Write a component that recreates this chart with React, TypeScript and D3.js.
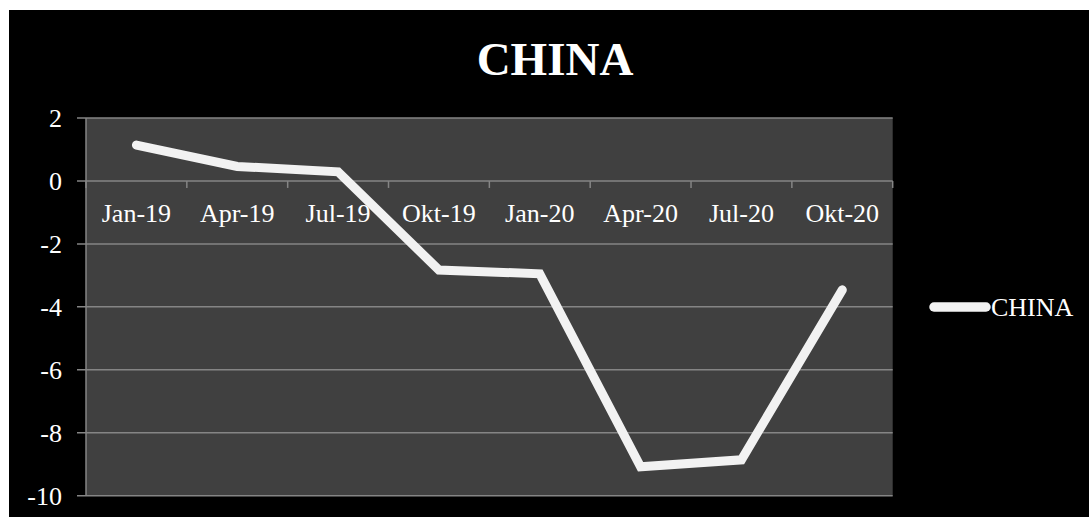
import React from "react";
import * as d3 from "d3";

const categories = ["Jan-19", "Apr-19", "Jul-19", "Okt-19", "Jan-20", "Apr-20", "Jul-20", "Okt-20"];
const chinaValues = [1.14, 0.46, 0.29, -2.83, -2.95, -9.08, -8.86, -3.46];
const yTicks = [2, 0, -2, -4, -6, -8, -10];
const seriesName = "CHINA";
const title = "CHINA";

const W = 1089;
const H = 517;
const plot = { left: 86, right: 892.7, top: 118, bottom: 495.7 };

export default function App() {
  const x = d3.scaleBand<string>().domain(categories).range([plot.left, plot.right]).padding(0);
  const y = d3.scaleLinear().domain([-10, 2]).range([plot.bottom, plot.top]);
  const line = d3
    .line<number>()
    .x((_, i) => (x(categories[i]) as number) + x.bandwidth() / 2)
    .y((d) => y(d));
  const font = "'Liberation Serif', 'Times New Roman', serif";
  const grid = "#858585";
  const boundaries = d3.range(categories.length + 1).map((i) => plot.left + i * x.bandwidth());
  return (
    <svg
      width={W}
      height={H}
      style={{ position: "absolute", left: 0, top: 0 }}
      fontFamily={font}
    >
      <rect x={0} y={0} width={W} height={H} fill="#ffffff" />
      <rect x={9} y={10} width={W - 9} height={H - 10} fill="#000000" />
      <rect
        x={plot.left}
        y={plot.top}
        width={plot.right - plot.left}
        height={plot.bottom - plot.top}
        fill="#404040"
      />
      {yTicks.map((t) => (
        <g key={t}>
          <line x1={77} x2={plot.right} y1={y(t)} y2={y(t)} stroke={grid} strokeWidth={1.5} />
          <text x={62} y={y(t)} dy="0.34em" textAnchor="end" fontSize={26} fill="#ffffff">
            {t}
          </text>
        </g>
      ))}
      <line x1={plot.left} x2={plot.left} y1={plot.top} y2={plot.bottom} stroke={grid} strokeWidth={1.5} />
      {boundaries.map((b, i) => (
        <line key={i} x1={b} x2={b} y1={y(0)} y2={y(0) + 7} stroke={grid} strokeWidth={1.5} />
      ))}
      {categories.map((c) => (
        <text
          key={c}
          x={(x(c) as number) + x.bandwidth() / 2}
          y={222}
          textAnchor="middle"
          fontSize={26}
          fill="#ffffff"
        >
          {c}
        </text>
      ))}
      <path
        d={line(chinaValues) || ""}
        fill="none"
        stroke="#f2f2f2"
        strokeWidth={9}
        strokeLinecap="round"
        strokeLinejoin="miter"
      />
      <text x={555} y={75} textAnchor="middle" fontSize={47} fontWeight="bold" fill="#ffffff">
        {title}
      </text>
      <line x1={934} x2={986} y1={307} y2={307} stroke="#f2f2f2" strokeWidth={9.5} strokeLinecap="round" />
      <text x={991} y={316} fontSize={26} fill="#ffffff">
        {seriesName}
      </text>
    </svg>
  );
}
